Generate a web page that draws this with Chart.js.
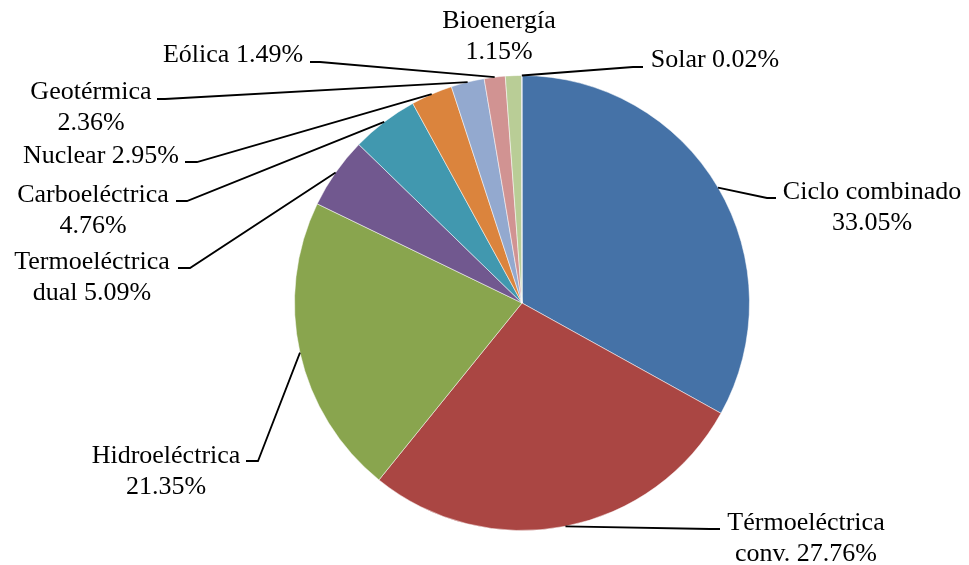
<!DOCTYPE html>
<html>
<head>
<meta charset="utf-8">
<script src="https://cdn.jsdelivr.net/npm/chart.js@4"></script>
<style>
  html, body { margin: 0; padding: 0; background: #fff; }
  #wrap { width: 969px; height: 565px; }
</style>
</head>
<body>
<div id="wrap"><canvas id="pie" width="969" height="565"></canvas></div>
<script>
// datos (porcentaje de capacidad por tecnología)
const categories = ['Ciclo combinado', 'Térmoeléctrica conv.', 'Hidroeléctrica', 'Termoeléctrica dual',
  'Carboeléctrica', 'Nuclear', 'Geotérmica', 'Eólica', 'Bioenergía', 'Solar'];
const values = [33.05, 27.76, 21.35, 5.09, 4.76, 2.95, 2.36, 1.49, 1.15, 0.02];
const sliceColors = ['#4572A7', '#AA4643', '#89A54E', '#71588F', '#4198AF',
  '#DB843D', '#93A9CF', '#D19392', '#B9CD96', '#A99BBD'];

// textos de etiquetas (líneas)
const labelLines = [
  ['Ciclo combinado', '33.05%'],
  ['Térmoeléctrica', 'conv. 27.76%'],
  ['Hidroeléctrica', '21.35%'],
  ['Termoeléctrica', 'dual 5.09%'],
  ['Carboeléctrica', '4.76%'],
  ['Nuclear 2.95%'],
  ['Geotérmica', '2.36%'],
  ['Eólica 1.49%'],
  ['Bioenergía', '1.15%'],
  ['Solar 0.02%']
];

// posición de etiquetas: [centro x, línea base y]
const labelPos = [
  [872, 199], [806, 530], [166, 463], [92, 269], [93, 202],
  [101, 163], [91, 99], [233, 62], [499, 28], [715, 67]
];
// codo y final de la línea guía (null = sin línea)
const leaderElbow = [[767, 198], [710, 529], [258, 461], [190, 268], [187, 201],
  [197, 162], [165, 99], [320, 62], null, [633, 67]];
const leaderEnd = [[776, 198], [720, 529], [246, 461], [178, 268], [176, 201],
  [185, 162], [157, 99], [310, 62], null, [643, 67]];

const labelPlugin = {
  id: 'labelPlugin',
  afterDatasetsDraw(chart) {
    const ctx = chart.ctx;
    const arcs = chart.getDatasetMeta(0).data;
    ctx.save();
    ctx.strokeStyle = '#000';
    ctx.lineWidth = 1.8;
    arcs.forEach((arc, i) => {
      if (!leaderElbow[i]) return;
      const p = arc.getProps(['x', 'y', 'startAngle', 'endAngle', 'outerRadius'], true);
      const mid = (p.startAngle + p.endAngle) / 2;
      const sx = p.x + Math.cos(mid) * p.outerRadius;
      const sy = p.y + Math.sin(mid) * p.outerRadius;
      ctx.beginPath();
      ctx.moveTo(sx, sy);
      ctx.lineTo(leaderElbow[i][0], leaderElbow[i][1]);
      ctx.lineTo(leaderEnd[i][0], leaderEnd[i][1]);
      ctx.stroke();
    });
    ctx.fillStyle = '#000';
    ctx.font = '26px "Liberation Serif", "Times New Roman", serif';
    ctx.textBaseline = 'alphabetic';
    ctx.textAlign = 'center';
    labelLines.forEach((lines, i) => {
      lines.forEach((t, j) => {
        ctx.fillText(t, labelPos[i][0], labelPos[i][1] + j * 30.5);
      });
    });
    ctx.restore();
  }
};

new Chart(document.getElementById('pie'), {
  type: 'pie',
  data: {
    labels: categories,
    datasets: [{
      data: values,
      backgroundColor: sliceColors,
      borderColor: 'rgba(255,255,255,0.5)',
      borderWidth: 1
    }]
  },
  options: {
    responsive: false,
    devicePixelRatio: 1,
    animation: false,
    layout: { padding: { left: 294, right: 219, top: 75, bottom: 34 } },
    plugins: {
      legend: { display: false },
      tooltip: { enabled: false }
    }
  },
  plugins: [labelPlugin]
});
</script>
</body>
</html>
